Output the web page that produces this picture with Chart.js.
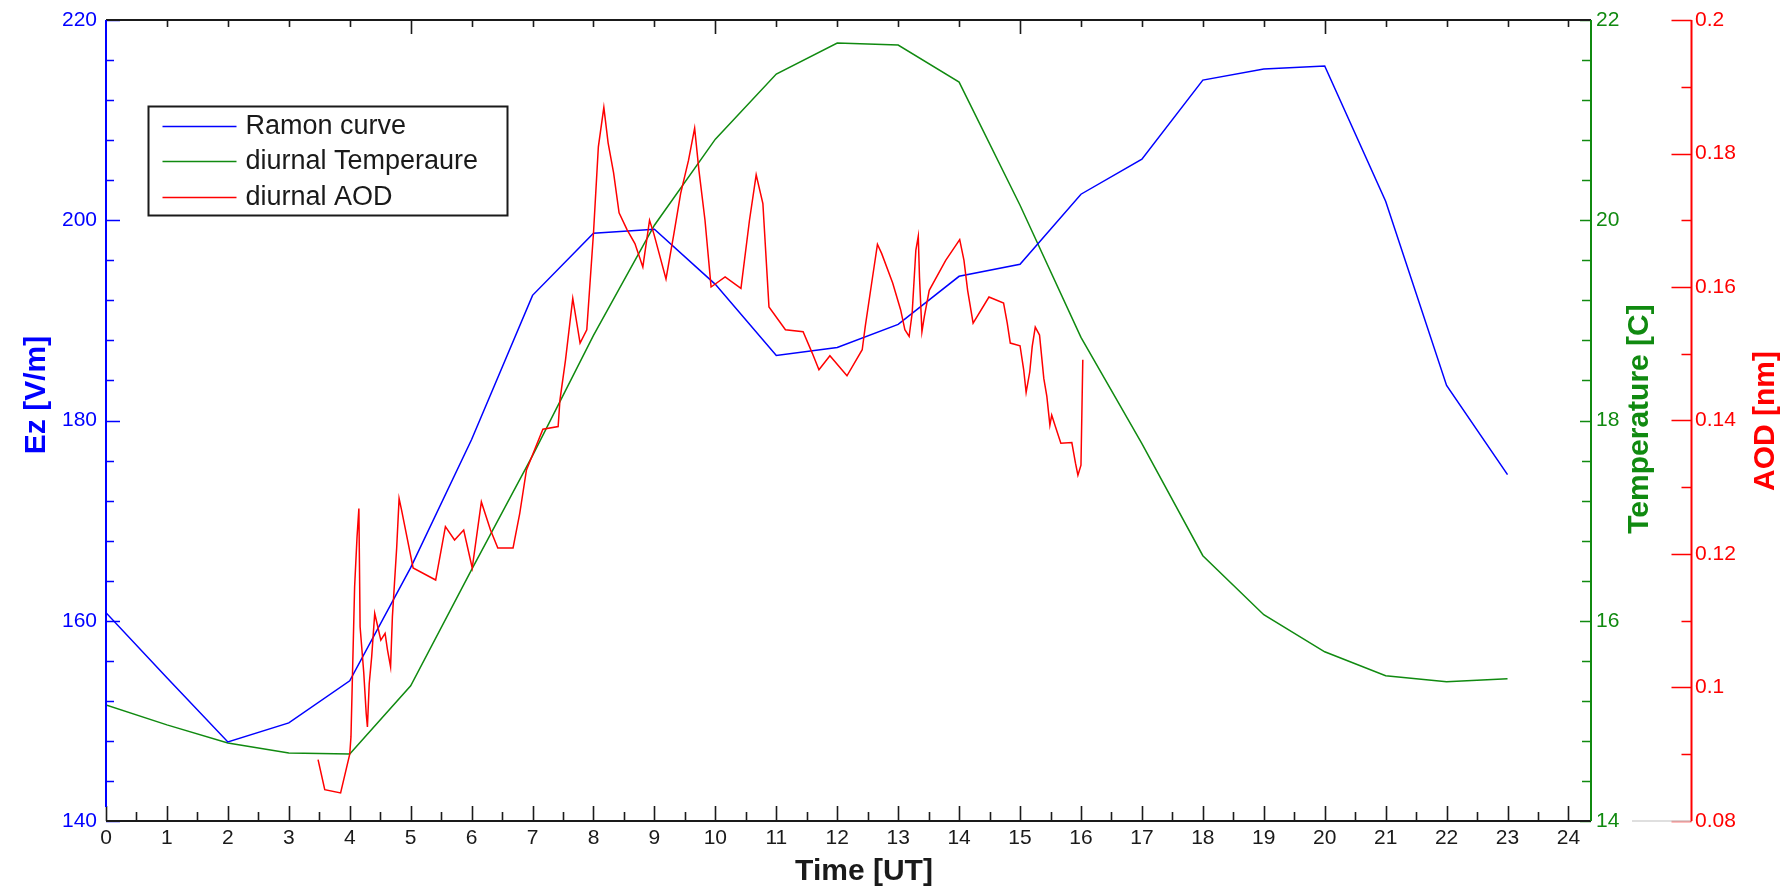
<!DOCTYPE html>
<html>
<head>
<meta charset="utf-8">
<title>Ramon curve, temperature and AOD</title>
<script src="https://cdn.jsdelivr.net/npm/chart.js@4.4.0/dist/chart.umd.min.js"></script>
<style>
  html, body { margin: 0; padding: 0; background: #ffffff; }
  #diurnal_chart { display: block; }
</style>
</head>
<body>
<canvas id="diurnal_chart" width="1785" height="891"></canvas>
<script>
var FONT = '"Liberation Sans", Arial, Helvetica, sans-serif';

// hourly curves (UT)
var hours = [0, 1, 2, 3, 4, 5, 6, 7, 8, 9, 10, 11, 12, 13, 14, 15, 16, 17, 18, 19, 20, 21, 22, 23];
var ramonEz = [160.8, 154.3, 147.9, 149.8, 154.0, 165.3, 178.1, 192.5, 198.7, 199.1, 193.6, 186.5, 187.3, 189.6, 194.4, 195.6, 202.6, 206.1, 214.0, 215.1, 215.4, 201.9, 183.5, 174.6];
var diurnalTemp = [15.16, 14.96, 14.78, 14.68, 14.67, 15.35, 16.51, 17.65, 18.85, 19.95, 20.81, 21.46, 21.77, 21.75, 21.38, 20.15, 18.83, 17.77, 16.65, 16.06, 15.69, 15.45, 15.39, 15.42];

// AOD samples
var aodTime = [3.48, 3.59, 3.85, 4.00, 4.02, 4.08, 4.12, 4.15, 4.17, 4.23, 4.27, 4.29, 4.32, 4.36, 4.41, 4.46, 4.51, 4.58, 4.62, 4.67,
  4.70, 4.77, 4.81, 4.85, 5.04, 5.41, 5.57, 5.72, 5.87, 6.01, 6.16, 6.31, 6.43, 6.68, 6.79, 6.90, 7.17, 7.42, 7.45, 7.54,
  7.66, 7.78, 7.89, 8.00, 8.08, 8.17, 8.24, 8.33, 8.42, 8.55, 8.68, 8.81, 8.92, 8.99, 9.19, 9.32, 9.43, 9.56, 9.66, 9.73,
  9.83, 9.93, 10.16, 10.42, 10.56, 10.67, 10.78, 10.88, 11.15, 11.44, 11.59, 11.70, 11.88, 12.16, 12.41, 12.46, 12.58, 12.66, 12.73, 12.91,
  13.04, 13.11, 13.18, 13.23, 13.29, 13.33, 13.35, 13.39, 13.43, 13.51, 13.78, 14.01, 14.08, 14.14, 14.23, 14.49, 14.73, 14.79, 14.84, 15.00,
  15.06, 15.10, 15.16, 15.20, 15.25, 15.32, 15.39, 15.44, 15.49, 15.52, 15.58, 15.67, 15.85, 15.91, 15.95, 16.00, 16.03];
var aodValue = [0.0892, 0.0847, 0.0842, 0.0900, 0.0926, 0.1151, 0.1226, 0.1268, 0.1091, 0.1022, 0.0961, 0.0941, 0.1006, 0.1046, 0.1111, 0.1091, 0.1071, 0.1081, 0.1056, 0.1031,
  0.1106, 0.1209, 0.1283, 0.1266, 0.1179, 0.1161, 0.1241, 0.1221, 0.1236, 0.1179, 0.1278, 0.1236, 0.1209, 0.1209, 0.1261, 0.1326, 0.1387, 0.1391, 0.1431, 0.1490,
  0.1583, 0.1516, 0.1536, 0.1681, 0.1810, 0.1869, 0.1816, 0.1771, 0.1711, 0.1686, 0.1665, 0.1630, 0.1700, 0.1680, 0.1612, 0.1680, 0.1740, 0.1790, 0.1838, 0.1775,
  0.1700, 0.1600, 0.1615, 0.1598, 0.1700, 0.1768, 0.1725, 0.1570, 0.1536, 0.1533, 0.1501, 0.1476, 0.1497, 0.1467, 0.1506, 0.1541, 0.1615, 0.1664, 0.1650, 0.1606,
  0.1566, 0.1536, 0.1526, 0.1561, 0.1655, 0.1676, 0.1615, 0.1533, 0.1556, 0.1595, 0.1640, 0.1671, 0.1640, 0.1595, 0.1546, 0.1585, 0.1576, 0.1546, 0.1516, 0.1512,
  0.1476, 0.1442, 0.1473, 0.1511, 0.1540, 0.1528, 0.1463, 0.1436, 0.1393, 0.1408, 0.1391, 0.1366, 0.1367, 0.1336, 0.1318, 0.1333, 0.1491];

// tick labels
var hourTicks = [0, 1, 2, 3, 4, 5, 6, 7, 8, 9, 10, 11, 12, 13, 14, 15, 16, 17, 18, 19, 20, 21, 22, 23, 24];
var ezTicks = [140, 160, 180, 200, 220];
var tempTicks = [14, 16, 18, 20, 22];
var aodTicks = [0.08, 0.1, 0.12, 0.14, 0.16, 0.18, 0.2];

var BLUE = '#0000ff', GREEN = '#108a10', RED = '#ff0000', INK = '#1a1a1a';

function toPoints(xs, ys) {
    return xs.map(function (x, i) { return {x: x, y: ys[i]}; });
}

function fixedTicks(list) {
    return function (scale) {
        scale.ticks = list.map(function (v) { return {value: v}; });
    };
}

// fixed axis box size, no extra label overhang padding
function boxSize(w, h) {
    return function (s) {
        if (w) s.width = w;
        if (h) s.height = h;
        s.paddingTop = 0; s.paddingBottom = 0;
        s.paddingLeft = 0; s.paddingRight = 0;
    };
}

// axis lines, inward ticks, titles and the boxed legend
var framePlugin = {
    id: 'frame',
    afterDraw: function (chart) {
        var ctx = chart.ctx, a = chart.chartArea;
        var sx = chart.scales.x, sEz = chart.scales.yEz, sT = chart.scales.yTemp, sA = chart.scales.yAod;
        var aodX = sA.left + 20.5;
        var i, p;
        ctx.save();

        // time ticks: bottom (half hours) and top
        ctx.strokeStyle = INK;
        ctx.lineWidth = 1.6;
        ctx.beginPath();
        for (i = 0; i <= 48; i++) {
            p = Math.round(sx.getPixelForValue(i / 2)) + 0.5;
            ctx.moveTo(p, a.bottom);
            ctx.lineTo(p, a.bottom - (i % 2 === 0 ? 15 : 9));
            if (i % 2 === 0 && i > 0) {
                ctx.moveTo(p, a.top);
                ctx.lineTo(p, a.top + ((i / 2) % 5 === 0 ? 14 : 7));
            }
        }
        ctx.stroke();

        // Ez ticks
        ctx.strokeStyle = BLUE;
        ctx.beginPath();
        for (i = 140; i <= 220; i += 4) {
            p = Math.round(sEz.getPixelForValue(i)) + 0.5;
            ctx.moveTo(a.left, p);
            ctx.lineTo(a.left + (i % 20 === 0 ? 14 : 8), p);
        }
        ctx.stroke();

        // temperature ticks
        ctx.strokeStyle = GREEN;
        ctx.beginPath();
        for (i = 0; i <= 20; i++) {
            p = Math.round(sT.getPixelForValue(14 + i * 0.4)) + 0.5;
            ctx.moveTo(a.right, p);
            ctx.lineTo(a.right - (i % 5 === 0 ? 11 : 9), p);
        }
        ctx.stroke();

        // AOD ticks
        ctx.strokeStyle = RED;
        ctx.beginPath();
        for (i = 0; i <= 12; i++) {
            p = Math.round(sA.getPixelForValue(0.08 + i * 0.01)) + 0.5;
            ctx.moveTo(aodX, p);
            ctx.lineTo(aodX - (i % 2 === 0 ? 20 : 10), p);
        }
        ctx.stroke();

        // axis lines
        ctx.lineWidth = 2;
        ctx.strokeStyle = INK;
        ctx.beginPath();
        ctx.moveTo(a.left, a.top); ctx.lineTo(a.right, a.top);
        ctx.moveTo(a.left, a.bottom); ctx.lineTo(a.right, a.bottom);
        ctx.stroke();
        ctx.strokeStyle = BLUE;
        ctx.beginPath(); ctx.moveTo(a.left, a.top); ctx.lineTo(a.left, a.bottom - 14); ctx.stroke();
        ctx.strokeStyle = GREEN;
        ctx.beginPath(); ctx.moveTo(a.right, a.top); ctx.lineTo(a.right, a.bottom); ctx.stroke();
        ctx.strokeStyle = RED;
        ctx.beginPath(); ctx.moveTo(aodX, a.top); ctx.lineTo(aodX, a.bottom); ctx.stroke();
        ctx.strokeStyle = '#d4d4d4';
        ctx.lineWidth = 1.5;
        ctx.beginPath(); ctx.moveTo(a.right + 41, a.bottom); ctx.lineTo(aodX - 1, a.bottom); ctx.stroke();

        // titles
        ctx.font = 'bold 30px ' + FONT;
        ctx.textAlign = 'center';
        ctx.textBaseline = 'middle';
        ctx.fillStyle = INK;
        ctx.fillText('Time [UT]', 864, 872);
        var vt = [['Ez [V/m]', BLUE, 37, 395], ['Temperature [C]', GREEN, 1640, 419], ['AOD [nm]', RED, 1766, 421]];
        vt.forEach(function (t) {
            ctx.save();
            ctx.translate(t[2], t[3]);
            ctx.rotate(-Math.PI / 2);
            ctx.fillStyle = t[1];
            ctx.fillText(t[0], 0, 0);
            ctx.restore();
        });

        // legend
        var lx = a.left + 42.5, ly = a.top + 86.5, lw = 359, lh = 109;
        ctx.fillStyle = '#ffffff';
        ctx.fillRect(lx, ly, lw, lh);
        ctx.strokeStyle = INK;
        ctx.lineWidth = 2;
        ctx.strokeRect(lx, ly, lw, lh);
        ctx.font = '27px ' + FONT;
        ctx.textAlign = 'left';
        chart.data.datasets.forEach(function (ds, k) {
            var yy = ly + 19 + k * 35.5;
            ctx.strokeStyle = ds.borderColor;
            ctx.lineWidth = 1.6;
            ctx.beginPath();
            ctx.moveTo(lx + 14, Math.round(yy) + 0.5);
            ctx.lineTo(lx + 88, Math.round(yy) + 0.5);
            ctx.stroke();
            ctx.fillStyle = INK;
            ctx.fillText(ds.label, lx + 97, yy + 1);
        });
        ctx.restore();
    }
};

var tickFont = {family: FONT, size: 21};

var diurnal_config = {
    type: 'line',
    data: {
        datasets: [{
            label: 'Ramon curve',
            data: toPoints(hours, ramonEz),
            yAxisID: 'yEz',
            borderColor: BLUE,
            borderWidth: 1.5,
            order: 1
        }, {
            label: 'diurnal Temperaure',
            data: toPoints(hours, diurnalTemp),
            yAxisID: 'yTemp',
            borderColor: GREEN,
            borderWidth: 1.5,
            order: 2
        }, {
            label: 'diurnal AOD',
            data: toPoints(aodTime, aodValue),
            yAxisID: 'yAod',
            borderColor: RED,
            borderWidth: 1.5,
            order: 0
        }]
    },
    options: {
        responsive: false,
        animation: false,
        devicePixelRatio: 1,
        elements: {
            point: {radius: 0, hoverRadius: 0},
            line: {tension: 0, fill: false}
        },
        layout: {padding: {top: 20, left: 0, right: 0, bottom: 0}},
        plugins: {
            legend: {display: false},
            tooltip: {enabled: false}
        },
        scales: {
            x: {
                type: 'linear',
                position: 'bottom',
                min: 0,
                max: 24.37,
                afterBuildTicks: fixedTicks(hourTicks),
                afterFit: boxSize(0, 70),
                grid: {display: false, drawTicks: false},
                border: {display: false},
                ticks: {color: INK, font: tickFont, padding: 5, maxRotation: 0, autoSkip: false}
            },
            yEz: {
                type: 'linear',
                position: 'left',
                min: 140,
                max: 220,
                afterBuildTicks: fixedTicks(ezTicks),
                afterFit: boxSize(106, 0),
                grid: {display: false, drawTicks: false},
                border: {display: false},
                ticks: {color: BLUE, font: tickFont, padding: 9}
            },
            yTemp: {
                type: 'linear',
                position: 'right',
                min: 14,
                max: 22,
                afterBuildTicks: fixedTicks(tempTicks),
                afterFit: boxSize(80, 0),
                grid: {display: false, drawTicks: false},
                border: {display: false},
                ticks: {color: GREEN, font: tickFont, padding: 5}
            },
            yAod: {
                type: 'linear',
                position: 'right',
                min: 0.08,
                max: 0.2,
                afterBuildTicks: fixedTicks(aodTicks),
                afterFit: boxSize(114, 0),
                grid: {display: false, drawTicks: false},
                border: {display: false},
                ticks: {
                    color: RED,
                    font: tickFont,
                    padding: 24,
                    callback: function (v) { return String(Math.round(v * 100) / 100); }
                }
            }
        }
    },
    plugins: [framePlugin]
};

var $element = document.getElementById('diurnal_chart');
var diurnalchart = new Chart($element.getContext('2d'), diurnal_config);
</script>
</body>
</html>
